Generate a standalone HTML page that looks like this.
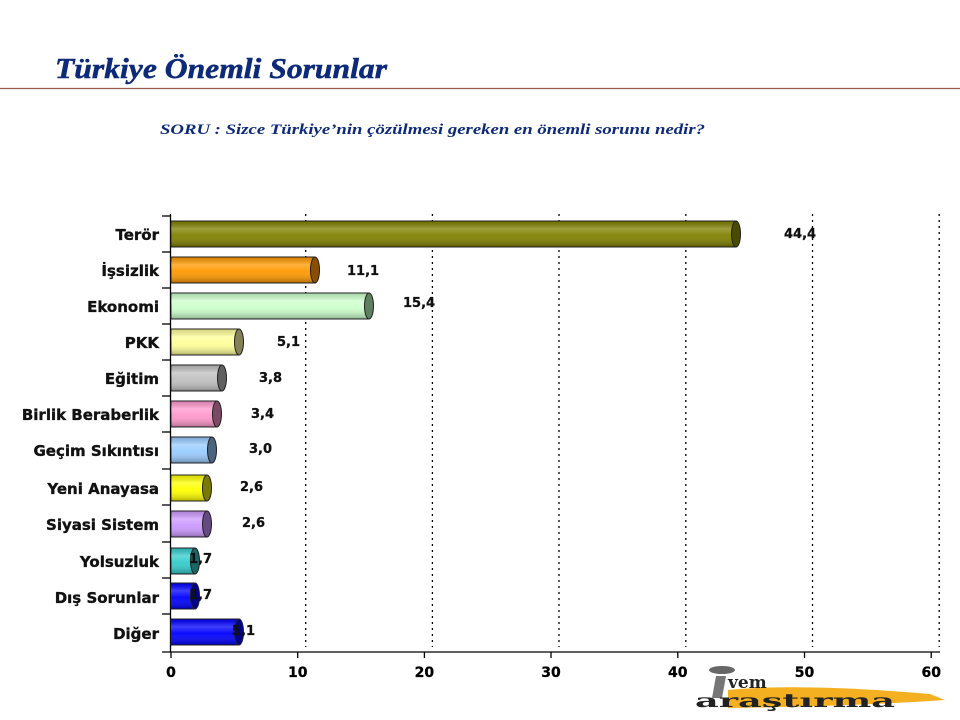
<!DOCTYPE html>
<html><head><meta charset="utf-8"><style>
html,body{margin:0;padding:0;background:#fff;width:960px;height:720px;overflow:hidden}
svg{display:block}
</style></head><body>
<svg width="960" height="720" viewBox="0 0 960 720" xmlns="http://www.w3.org/2000/svg">
<defs>
<linearGradient id="sh" x1="0" y1="0" x2="0" y2="1">
<stop offset="0" stop-color="#000" stop-opacity="0.15"/>
<stop offset="0.3" stop-color="#fff" stop-opacity="0.25"/>
<stop offset="0.55" stop-color="#fff" stop-opacity="0.05"/>
<stop offset="1" stop-color="#000" stop-opacity="0.3"/>
</linearGradient>
</defs>
<text x="55" y="78" font-family="Liberation Serif, serif" font-weight="bold" font-style="italic" font-size="28" fill="#0d2a7a" stroke="#0d2a7a" stroke-width="0.5" textLength="332" lengthAdjust="spacingAndGlyphs">Türkiye Önemli Sorunlar</text>
<line x1="0" y1="88.5" x2="960" y2="88.5" stroke="#9b5a4e" stroke-width="1.2"/>
<text x="160" y="134" font-family="Liberation Serif, serif" font-weight="bold" font-style="italic" font-size="15" fill="#0d2a7a" textLength="545" lengthAdjust="spacingAndGlyphs">SORU : Sizce Türkiye’nin çözülmesi gereken en önemli sorunu nedir?</text>

<g stroke="#000" stroke-width="1.3" stroke-dasharray="2,4">
<line x1="305.7" y1="214" x2="305.7" y2="647"/>
<line x1="432.4" y1="214" x2="432.4" y2="647"/>
<line x1="559" y1="214" x2="559" y2="647"/>
<line x1="685.8" y1="214" x2="685.8" y2="647"/>
<line x1="812.5" y1="214" x2="812.5" y2="647"/>
<line x1="939.2" y1="214" x2="939.2" y2="647"/>
</g>

<g stroke="#000" stroke-width="1.3">
<line x1="170.5" y1="214" x2="170.5" y2="652"/>
<line x1="162" y1="652" x2="940" y2="652"/>
<line x1="162" y1="216" x2="171" y2="216"/>
<line x1="162" y1="252" x2="171" y2="252"/>
<line x1="162" y1="288" x2="171" y2="288"/>
<line x1="162" y1="324" x2="171" y2="324"/>
<line x1="162" y1="360" x2="171" y2="360"/>
<line x1="162" y1="396" x2="171" y2="396"/>
<line x1="162" y1="432" x2="171" y2="432"/>
<line x1="162" y1="469" x2="171" y2="469"/>
<line x1="162" y1="505" x2="171" y2="505"/>
<line x1="162" y1="542" x2="171" y2="542"/>
<line x1="162" y1="578" x2="171" y2="578"/>
<line x1="162" y1="614" x2="171" y2="614"/>
<line x1="171" y1="652" x2="171" y2="658"/>
<line x1="297.7" y1="652" x2="297.7" y2="658"/>
<line x1="424.4" y1="652" x2="424.4" y2="658"/>
<line x1="551" y1="652" x2="551" y2="658"/>
<line x1="677.8" y1="652" x2="677.8" y2="658"/>
<line x1="804.5" y1="652" x2="804.5" y2="658"/>
<line x1="931.2" y1="652" x2="931.2" y2="658"/>
</g>
<g font-family="DejaVu Sans, Verdana, sans-serif" font-weight="bold" font-size="14" text-anchor="middle" fill="#000" stroke="#000" stroke-width="0.3">
<text x="171" y="677">0</text><text x="297.7" y="677">10</text><text x="424.4" y="677">20</text><text x="551" y="677">30</text><text x="677.8" y="677">40</text><text x="804.5" y="677">50</text><text x="931.2" y="677">60</text>
</g>

<g font-family="DejaVu Sans, Verdana, sans-serif" font-weight="bold" font-size="15" text-anchor="end" fill="#111" stroke="#111" stroke-width="0.35">
<text x="159" y="240">Terör</text>
<text x="159" y="276">İşsizlik</text>
<text x="159" y="312">Ekonomi</text>
<text x="159" y="348">PKK</text>
<text x="159" y="384">Eğitim</text>
<text x="159" y="420">Birlik Beraberlik</text>
<text x="159" y="456">Geçim Sıkıntısı</text>
<text x="159" y="494">Yeni Anayasa</text>
<text x="159" y="530">Siyasi Sistem</text>
<text x="159" y="567">Yolsuzluk</text>
<text x="159" y="603">Dış Sorunlar</text>
<text x="159" y="639">Diğer</text>
</g>

<g stroke="#222" stroke-width="1">
<rect x="171" y="221" width="565" height="26" fill="#808000"/><rect x="171" y="221" width="565" height="26" fill="url(#sh)" stroke="none"/><ellipse cx="736" cy="234" rx="4.5" ry="13" fill="#4a4a00"/>
<rect x="171" y="257" width="144" height="26" fill="#ff9900"/><rect x="171" y="257" width="144" height="26" fill="url(#sh)" stroke="none"/><ellipse cx="315" cy="270" rx="4.5" ry="13" fill="#8a4f00"/>
<rect x="171" y="293" width="198" height="26" fill="#ccffcc"/><rect x="171" y="293" width="198" height="26" fill="url(#sh)" stroke="none"/><ellipse cx="369" cy="306" rx="4.5" ry="13" fill="#5f8060"/>
<rect x="171" y="329" width="68" height="26" fill="#ffff99"/><rect x="171" y="329" width="68" height="26" fill="url(#sh)" stroke="none"/><ellipse cx="239" cy="342" rx="4.5" ry="13" fill="#858055"/>
<rect x="171" y="365" width="51" height="26" fill="#c0c0c0"/><rect x="171" y="365" width="51" height="26" fill="url(#sh)" stroke="none"/><ellipse cx="222" cy="378" rx="4.5" ry="13" fill="#606060"/>
<rect x="171" y="401" width="46" height="26" fill="#ff99cc"/><rect x="171" y="401" width="46" height="26" fill="url(#sh)" stroke="none"/><ellipse cx="217" cy="414" rx="4.5" ry="13" fill="#7a4a62"/>
<rect x="171" y="437" width="41" height="26" fill="#99ccff"/><rect x="171" y="437" width="41" height="26" fill="url(#sh)" stroke="none"/><ellipse cx="212" cy="450" rx="4.5" ry="13" fill="#4a6580"/>
<rect x="171" y="475" width="36" height="26" fill="#ffff00"/><rect x="171" y="475" width="36" height="26" fill="url(#sh)" stroke="none"/><ellipse cx="207" cy="488" rx="4.5" ry="13" fill="#7a7a00"/>
<rect x="171" y="511" width="36" height="26" fill="#cc99ff"/><rect x="171" y="511" width="36" height="26" fill="url(#sh)" stroke="none"/><ellipse cx="207" cy="524" rx="4.5" ry="13" fill="#654a80"/>
<rect x="171" y="548" width="24" height="26" fill="#33cccc"/><rect x="171" y="548" width="24" height="26" fill="url(#sh)" stroke="none"/><ellipse cx="195" cy="561" rx="4.5" ry="13" fill="#1a6666"/>
<rect x="171" y="583" width="24" height="26" fill="#0000ff"/><rect x="171" y="583" width="24" height="26" fill="url(#sh)" stroke="none"/><ellipse cx="195" cy="596" rx="4.5" ry="13" fill="#00008a"/>
<rect x="171" y="619" width="68" height="26" fill="#0000ff"/><rect x="171" y="619" width="68" height="26" fill="url(#sh)" stroke="none"/><ellipse cx="239" cy="632" rx="4.5" ry="13" fill="#00008a"/>
</g>

<g font-family="DejaVu Sans, Verdana, sans-serif" font-weight="bold" font-size="13" fill="#111" stroke="#111" stroke-width="0.3">
<text x="784" y="238">44,4</text>
<text x="347" y="275">11,1</text>
<text x="403" y="307">15,4</text>
<text x="277" y="346">5,1</text>
<text x="259" y="382">3,8</text>
<text x="251" y="418">3,4</text>
<text x="249" y="453">3,0</text>
<text x="240" y="491">2,6</text>
<text x="242" y="527">2,6</text>
<text x="189" y="563">1,7</text>
<text x="189" y="599">1,7</text>
<text x="232" y="635">5,1</text>
</g>

<path d="M728 690 Q800 683 930 694 L945 700 Q860 706 728 708 Z" fill="#f4b021"/>
<ellipse cx="722" cy="670" rx="13" ry="4" fill="#666"/>
<path d="M716 676 L726 676 L722 698 L712 698 Z" fill="#777"/>
<text x="728" y="688" font-family="DejaVu Serif, serif" font-weight="bold" font-size="17" fill="#222">vem</text>
<text x="695" y="707" font-family="DejaVu Serif, serif" font-weight="bold" font-size="19" fill="#222" textLength="200" lengthAdjust="spacingAndGlyphs">araştırma</text>
</svg>
</body></html>
